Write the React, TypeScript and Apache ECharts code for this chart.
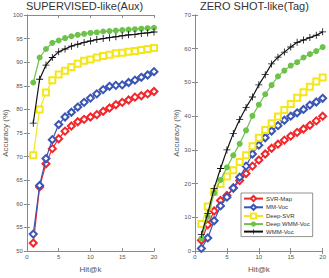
import React, { useEffect, useRef } from "react";
import * as echarts from "echarts";

const hitK = [1, 2, 3, 4, 5, 6, 7, 8, 9, 10, 11, 12, 13, 14, 15, 16, 17, 18, 19, 20];
const seriesNames = ["SVR-Map", "MM-Voc", "Deep-SVR", "Deep WMM-Voc", "WMM-Voc"];

// SUPERVISED-like (Aux)
const supSvrMap = [51.7, 63.6, 68.5, 71.7, 73.8, 75.4, 76.5, 77.4, 77.9, 78.4, 78.9, 79.6, 80.3, 81.0, 81.5, 82.0, 82.6, 82.9, 83.3, 83.8];
const supMmVoc = [53.6, 63.9, 69.6, 73.6, 76.8, 78.4, 79.4, 80.5, 81.5, 82.4, 83.3, 84.2, 84.9, 85.1, 85.2, 85.7, 86.2, 86.8, 87.3, 88.0];
const supDeepSvr = [70.3, 80.0, 83.6, 86.2, 87.4, 88.2, 89.0, 89.7, 90.3, 90.6, 91.0, 91.3, 91.6, 91.9, 92.0, 92.2, 92.4, 92.6, 92.8, 93.0];
const supDeepWmm = [85.7, 91.0, 92.8, 94.1, 94.6, 95.1, 95.5, 95.8, 96.0, 96.2, 96.3, 96.5, 96.6, 96.7, 96.8, 96.9, 97.0, 97.1, 97.2, 97.3];
const supWmm = [77.1, 86.4, 89.4, 91.0, 92.2, 92.8, 93.4, 93.8, 94.2, 94.5, 94.8, 95.0, 95.2, 95.4, 95.6, 95.8, 95.9, 96.1, 96.2, 96.4];

// ZERO SHOT-like (Tag)
const zsSvrMap = [3.2, 7.8, 11.9, 15.0, 16.5, 18.7, 20.9, 23.0, 25.2, 27.0, 28.8, 30.5, 31.7, 32.9, 34.1, 35.2, 36.2, 37.3, 38.6, 40.0];
const zsMmVoc = [0.8, 3.9, 9.0, 13.4, 16.0, 18.7, 21.9, 25.2, 28.8, 31.4, 33.6, 35.6, 37.2, 38.8, 40.0, 41.0, 42.0, 43.3, 44.2, 45.3];
const zsDeepSvr = [8.0, 13.2, 17.5, 19.9, 22.1, 24.0, 26.4, 28.4, 31.1, 33.6, 35.9, 37.9, 39.9, 41.8, 43.6, 45.5, 47.1, 48.7, 50.3, 51.5];
const zsDeepWmm = [3.7, 10.2, 17.2, 21.1, 24.8, 28.4, 31.8, 35.8, 40.1, 43.4, 46.5, 49.2, 51.8, 53.5, 55.0, 56.0, 57.4, 58.4, 59.3, 60.5];
const zsWmm = [4.9, 11.2, 18.6, 24.5, 30.0, 34.9, 39.0, 42.6, 45.7, 49.3, 52.3, 55.5, 57.5, 59.0, 60.5, 61.9, 62.6, 63.3, 64.0, 65.0];

const supData = [supSvrMap, supMmVoc, supDeepSvr, supDeepWmm, supWmm];
const zsData = [zsSvrMap, zsMmVoc, zsDeepSvr, zsDeepWmm, zsWmm];

const FONT = "'Liberation Sans', Arial, sans-serif";
const AXIS_GRAY = "#8a8a8a";
const LABEL_GRAY = "#555";

const styles = [
  { color: "#f2262b", symbol: "emptyDiamond", size: 7, hollow: true, border: 1.2 },
  { color: "#3a55b4", symbol: "emptyDiamond", size: 7, hollow: true, border: 1.2 },
  { color: "#f5e61c", symbol: "emptyRect", size: 6, hollow: true, border: 1.2 },
  { color: "#6cc24a", symbol: "circle", size: 6, hollow: false, border: 0 },
  {
    color: "#111111",
    symbol: "path://M4.4,0h1.2v4.4h4.4v1.2h-4.4v4.4h-1.2v-4.4h-4.4v-1.2h4.4z",
    size: 7,
    hollow: false,
    border: 0,
  },
];

function makeAxes(gridIndex: number, yMin: number, yMax: number, yInt: number) {
  const xBase = {
    type: "value",
    gridIndex,
    min: 0,
    max: 20,
    interval: 5,
    axisLine: { show: true, lineStyle: { color: AXIS_GRAY, width: 1 } },
    axisTick: { show: true, inside: true, length: 3, lineStyle: { color: AXIS_GRAY } },
    splitLine: { show: false },
  };
  const yBase = {
    type: "value",
    gridIndex,
    min: yMin,
    max: yMax,
    interval: yInt,
    axisLine: { show: true, lineStyle: { color: AXIS_GRAY, width: 1 } },
    axisTick: { show: true, inside: true, length: 3, lineStyle: { color: AXIS_GRAY } },
    splitLine: { show: false },
  };
  const xAxes = [
    {
      ...xBase,
      position: "bottom",
      name: "Hit@k",
      nameLocation: "middle",
      nameGap: 10,
      nameTextStyle: { fontSize: 8, color: LABEL_GRAY, fontFamily: FONT },
      axisLabel: { fontSize: 6, color: LABEL_GRAY, margin: 3, fontFamily: FONT },
    },
    { ...xBase, position: "top", axisLabel: { show: false } },
  ];
  const yAxes = [
    {
      ...yBase,
      position: "left",
      name: "Accuracy (%)",
      nameLocation: "middle",
      nameGap: 12,
      nameTextStyle: { fontSize: 8, color: LABEL_GRAY, fontFamily: FONT },
      axisLabel: { fontSize: 6, color: LABEL_GRAY, margin: 4, fontFamily: FONT },
    },
    { ...yBase, position: "right", axisLabel: { show: false } },
  ];
  return { xAxes, yAxes };
}

export default function App() {
  const ref = useRef<HTMLDivElement>(null);

  useEffect(() => {
    if (!ref.current) return;
    const chart = echarts.init(ref.current, undefined, { renderer: "svg" });

    const a0 = makeAxes(0, 50, 100, 5);
    const a1 = makeAxes(1, 0, 70, 10);

    const series: any[] = [];
    const addSeries = (data: number[][], xIdx: number, yIdx: number) => {
      data.forEach((vals, i) => {
        const st = styles[i];
        series.push({
          type: "line",
          name: seriesNames[i],
          xAxisIndex: xIdx,
          yAxisIndex: yIdx,
          data: vals.map((v, j) => [hitK[j], v]),
          symbol: st.symbol,
          symbolSize: st.size,
          showSymbol: true,
          lineStyle: { color: st.color, width: 1.2 },
          itemStyle: { color: st.color, borderColor: st.color, borderWidth: st.border },
          emphasis: { disabled: true },
          z: 2 + i,
        });
      });
    };
    addSeries(supData, 0, 0);
    addSeries(zsData, 2, 2);

    chart.setOption({
      animation: false,
      backgroundColor: "#fff",
      textStyle: { fontFamily: FONT },
      title: [
        {
          text: "SUPERVISED-like(Aux)",
          left: 26,
          top: 0,
          padding: 0,
          textStyle: { fontSize: 11, fontWeight: "normal", color: "#333", fontFamily: FONT },
        },
        {
          text: "ZERO SHOT-like(Tag)",
          left: 200,
          top: 0,
          padding: 0,
          textStyle: { fontSize: 11, fontWeight: "normal", color: "#333", fontFamily: FONT },
        },
      ],
      grid: [
        { left: 25, top: 15, width: 129, height: 242, containLabel: false },
        { left: 195, top: 15, width: 130, height: 241, containLabel: false },
      ],
      xAxis: [...a0.xAxes, ...a1.xAxes.map((a) => ({ ...a, gridIndex: 1 }))],
      yAxis: [...a0.yAxes, ...a1.yAxes.map((a) => ({ ...a, gridIndex: 1 }))],
      legend: {
        data: seriesNames,
        orient: "vertical",
        left: 241,
        top: 193,
        padding: [2, 3, 2, 2],
        itemGap: 1.5,
        itemWidth: 19,
        itemHeight: 6.5,
        backgroundColor: "#fff",
        borderColor: "#777",
        borderWidth: 0.8,
        selectedMode: false,
        textStyle: { fontSize: 6, color: "#333", fontFamily: FONT, padding: [0, 0, 0, -2] },
      },
      series,
    });

    return () => chart.dispose();
  }, []);

  return (
    <div
      ref={ref}
      style={{ position: "fixed", left: 0, top: 0, width: 329, height: 278, background: "#fff" }}
    />
  );
}
